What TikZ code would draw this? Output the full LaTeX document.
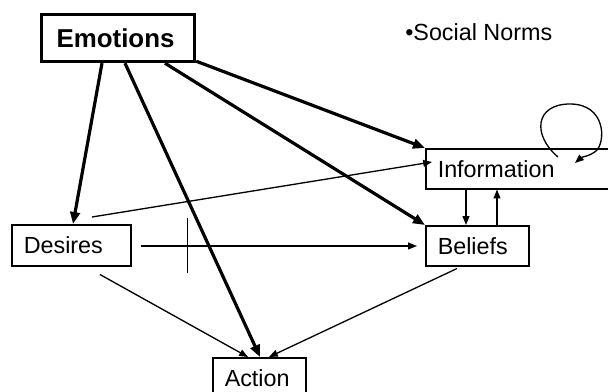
\documentclass[tikz,border=0pt]{standalone}
\usepackage{fontspec}
\setmainfont{Liberation Sans}
\usetikzlibrary{arrows.meta,calc}
\tikzset{
  x=0.25mm,y=-0.25mm,
  box/.style={draw,line width=0.38mm,anchor=north west,inner xsep=3mm,inner ysep=0pt,
    align=left,font=\fontsize{16.6}{19}\selectfont},
  main box/.style={box,line width=0.8mm,inner xsep=3.75mm,font=\fontsize{18.4}{21}\bfseries\selectfont},
  link/.style={-{Triangle[length=2.2mm,width=1.7mm]},line width=0.33mm},
  strong link/.style={-{Triangle[length=3mm,width=2.4mm]},line width=0.8mm},
}
\begin{document}
\begin{tikzpicture}
  \useasboundingbox (0,0) rectangle (608,392);
  % boxes
  \node[main box,text width=30.75mm,minimum height=11.75mm] (emo) at (40,13) {Emotions};
  \node[box,text width=44mm,minimum height=10mm] (info) at (425,148) {Information};
  \node[box,text width=23.75mm,minimum height=10.25mm] (des) at (11,224) {Desires};
  \node[box,text width=19.75mm,minimum height=10mm] (bel) at (425,225) {Beliefs};
  \node[box,text width=17.25mm,minimum height=10mm] (act) at (212,357) {Action};
  \node[anchor=west,inner sep=0pt,font=\fontsize{16.6}{19}\selectfont] (norms) at (405,32) {•Social Norms};
  % emotions drive everything
  \draw[strong link] ($(emo.south west)+(62,0)$) -- ($(des.north west)+(62,0)$);
  \draw[strong link] ($(emo.south west)+(85,0)$) -- ($(act.north west)+(48,0)$);
  \draw[strong link] ($(emo.south west)+(125,0)$) -- (bel.north west);
  \draw[strong link] ($(emo.south east)+(0,-2)$) -- (info.north west);
  % thin links
  \draw[link] ($(des.north west)+(81,-7)$) -- ($(info.north west)+(7,14)$);
  \draw[link] ($(des.north east)+(9,22)$) -- ($(bel.north west)+(-8,21)$);
  \coordinate (tickA) at ($(des.north east)+(56,-6)$);
  \coordinate (tickB) at ($(des.north east)+(56,49)$);
  \draw[line width=0.33mm] (tickA) -- (tickB);
  \draw[link] ($(des.south west)+(89,8)$) -- ($(act.north west)+(36,0)$);
  \draw[link] ($(bel.south west)+(32,2)$) -- ($(act.north west)+(57,0)$);
  \draw[link] ($(info.south west)+(41,0)$) -- ($(bel.north west)+(41,0)$);
  \draw[link] ($(bel.north west)+(72,0)$) -- ($(info.south west)+(72,0)$);
  % self loop on information
  \coordinate (loopA) at ($(info.north west)+(133,9)$);
  \coordinate (loopB) at ($(info.north west)+(150,15)$);
  \draw[link] (loopA) .. controls (532,135) and (535,104) .. (570,104)
    .. controls (606,104) and (606,142) .. (596,151)
    .. controls (590,156) and (582,157) .. (loopB);
\end{tikzpicture}
\end{document}
